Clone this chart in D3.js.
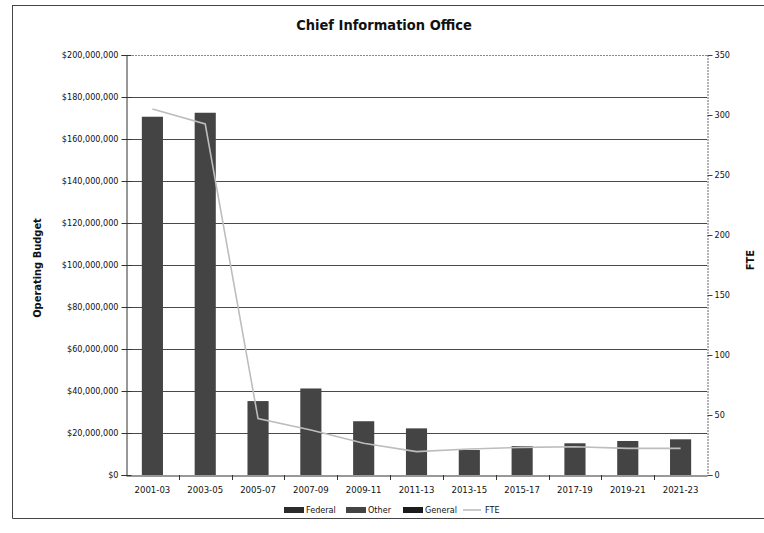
<!DOCTYPE html>
<html>
<head>
<meta charset="utf-8">
<script src="https://cdn.jsdelivr.net/npm/d3@7"></script>
<style>
  html, body { margin: 0; padding: 0; background: #fff; }
  svg { display: block; }
  text { font-family: "DejaVu Sans Condensed", "Liberation Sans", sans-serif; fill: #111; }
</style>
</head>
<body>
<svg id="chart" width="764" height="533"></svg>
<script>
// Biennium labels
const categories = ["2001-03", "2003-05", "2005-07", "2007-09", "2009-11", "2011-13",
                    "2013-15", "2015-17", "2017-19", "2019-21", "2021-23"];
// Operating budget by fund source (dollars)
const federal = [0, 0, 0, 0, 0, 0, 0, 0, 0, 0, 0];
const other   = [170600000, 172500000, 35200000, 41200000, 25600000, 22200000,
                 11900000, 13800000, 15100000, 16200000, 17000000];
const general = [0, 0, 0, 0, 0, 0, 0, 0, 0, 0, 0];
// Full-time equivalent staff
const fte = [305, 292.5, 47, 37.5, 26.5, 19.5, 21.7, 23, 23.6, 22.2, 22.2];
// Axis ticks
const budgetTicks = [0, 20000000, 40000000, 60000000, 80000000, 100000000,
                     120000000, 140000000, 160000000, 180000000, 200000000];
const fteTicks = [0, 50, 100, 150, 200, 250, 300, 350];
const seriesNames = ["Federal", "Other", "General"];

const svg = d3.select("#chart");
const plot = { left: 126, right: 707, top: 55, bottom: 475 };

// Chart frame (left, top and bottom edges)
const frame = svg.append("g").attr("stroke", "#444").attr("stroke-width", 1);
frame.append("line").attr("x1", 12.5).attr("x2", 12.5).attr("y1", 5).attr("y2", 518.5);
frame.append("line").attr("x1", 12.5).attr("x2", 764).attr("y1", 5.5).attr("y2", 5.5);
frame.append("line").attr("x1", 12.5).attr("x2", 764).attr("y1", 518.5).attr("y2", 518.5);

// Title
svg.append("text")
  .attr("x", 384).attr("y", 30)
  .attr("text-anchor", "middle")
  .style("font-size", "14.5px").style("font-weight", "bold")
  .text("Chief Information Office");

const x = d3.scaleBand()
  .domain(categories)
  .range([plot.left, plot.right])
  .paddingInner(0.6).paddingOuter(0.3);

const y = d3.scaleLinear().domain([0, 200000000]).range([plot.bottom, plot.top]);
const y2 = d3.scaleLinear().domain([0, 350]).range([plot.bottom, plot.top]);

// Horizontal gridlines
svg.append("g")
  .selectAll("line")
  .data(budgetTicks.filter(d => d > 0))
  .join("line")
  .attr("x1", plot.left).attr("x2", plot.right)
  .attr("y1", d => Math.round(y(d)) + 0.5).attr("y2", d => Math.round(y(d)) + 0.5)
  .attr("stroke", d => d === 200000000 ? "#888" : "#4a4a4a")
  .attr("stroke-dasharray", d => d === 200000000 ? "2,1" : null)
  .attr("stroke-width", 1);

// Stacked bars
const table = categories.map((c, i) => ({ cat: c, Federal: federal[i], Other: other[i], General: general[i] }));
const stacked = d3.stack().keys(seriesNames)(table);
const fills = { Federal: "#2b2b2b", Other: "#444444", General: "#1c1c1c" };

svg.append("g")
  .selectAll("g")
  .data(stacked)
  .join("g")
  .attr("fill", s => fills[s.key])
  .selectAll("rect")
  .data(s => s)
  .join("rect")
  .attr("x", d => x(d.data.cat))
  .attr("width", x.bandwidth())
  .attr("y", d => y(d[1]))
  .attr("height", d => y(d[0]) - y(d[1]));

// Left axis
const leftAxis = d3.axisLeft(y)
  .tickValues(budgetTicks)
  .tickFormat(d3.format("$,"))
  .tickSize(5).tickPadding(5);
const gl = svg.append("g").attr("transform", `translate(${plot.left + 0.5},0)`).call(leftAxis);
gl.select(".domain").attr("stroke", "#333");
gl.selectAll(".tick line").attr("x2", -5).attr("x1", 5).attr("stroke", "#333");
gl.selectAll(".tick text").style("font-size", "9px").attr("x", -8);

// Right axis
const rightAxis = d3.axisRight(y2)
  .tickValues(fteTicks)
  .tickSize(5).tickPadding(2);
const gr = svg.append("g").attr("transform", `translate(${plot.right + 0.5},0)`).call(rightAxis);
gr.select(".domain").attr("stroke", "#666").attr("stroke-dasharray", "2,1");
gr.selectAll(".tick line").attr("stroke", "#444");
gr.selectAll(".tick text").style("font-size", "9px");

// Bottom axis
const bottomAxis = d3.axisBottom(x).tickSize(0).tickPadding(11);
const gb = svg.append("g").attr("transform", `translate(0,${plot.bottom + 0.5})`).call(bottomAxis);
gb.select(".domain").attr("stroke", "#333");
gb.selectAll(".tick text").style("font-size", "9.5px");
// Category separators on the x axis
svg.append("g")
  .selectAll("line")
  .data(categories.slice(1))
  .join("line")
  .attr("x1", d => Math.round(x(d) - x.step() * 0.3) + 0.5)
  .attr("x2", d => Math.round(x(d) - x.step() * 0.3) + 0.5)
  .attr("y1", plot.bottom).attr("y2", plot.bottom + 5)
  .attr("stroke", "#333");

// FTE line
const line = d3.line()
  .x((d, i) => x(categories[i]) + x.bandwidth() / 2)
  .y(d => y2(d));
svg.append("path")
  .datum(fte)
  .attr("d", line)
  .attr("fill", "none")
  .attr("stroke", "#bdbdbd")
  .attr("stroke-width", 1.6);

// Axis titles
svg.append("text")
  .attr("transform", `translate(41,268) rotate(-90)`)
  .attr("text-anchor", "middle")
  .style("font-size", "11px").style("font-weight", "bold")
  .text("Operating Budget");

svg.append("text")
  .attr("transform", `translate(754,260) rotate(-90)`)
  .attr("text-anchor", "middle")
  .style("font-size", "11px").style("font-weight", "bold")
  .text("FTE");

// Legend
const legendY = 510;
const legendItems = [
  { name: "Federal", x: 284, type: "rect", fill: fills.Federal },
  { name: "Other", x: 346, type: "rect", fill: fills.Other },
  { name: "General", x: 403, type: "rect", fill: fills.General },
  { name: "FTE", x: 463, type: "line" }
];
const lg = svg.append("g");
legendItems.forEach(item => {
  if (item.type === "rect") {
    lg.append("rect").attr("x", item.x).attr("y", legendY - 3)
      .attr("width", 20).attr("height", 6).attr("fill", item.fill);
  } else {
    lg.append("line").attr("x1", item.x).attr("x2", item.x + 18)
      .attr("y1", legendY).attr("y2", legendY)
      .attr("stroke", "#bdbdbd").attr("stroke-width", 1.6);
  }
  lg.append("text").attr("x", item.x + 22).attr("y", legendY)
    .attr("dy", "0.35em").style("font-size", "9px").text(item.name);
});
</script>
</body>
</html>
